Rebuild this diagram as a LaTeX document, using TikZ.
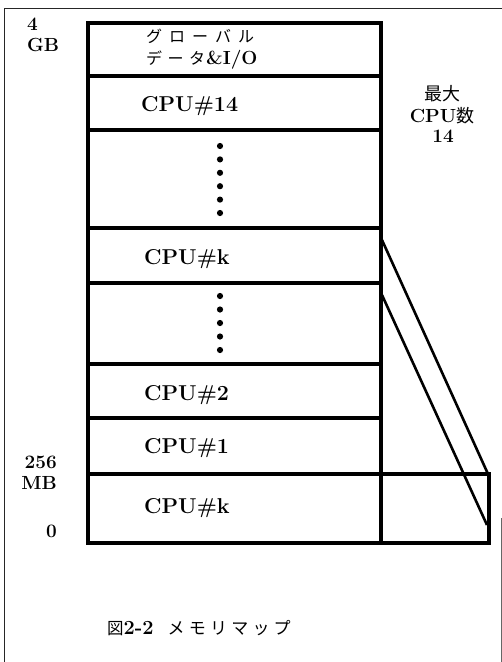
\documentclass[tikz,border=0pt]{standalone}
\usepackage{fontspec}
\newfontfamily\jp{Noto Sans CJK JP}
\newcommand\ksp{\hspace{7pt}}
\newcommand\dsp{\hspace{5.5pt}}
\newcommand\csp{\hspace{4.2pt}}
\begin{document}
\begin{tikzpicture}[x=1pt,y=-1pt,
  frameline/.style={line width=1pt, black!85},
  rowbox/.style={draw, line width=4.8pt, minimum width=293pt, inner sep=0pt, outer sep=0pt},
  mapline/.style={line width=2.6pt},
  lbl/.style={inner sep=0pt, font=\bfseries\fontsize{21.5}{23}\selectfont},
  sidelbl/.style={inner sep=0pt, font=\bfseries\fontsize{19}{21}\selectfont},
  jplbl/.style={inner sep=0pt, font=\jp\fontsize{16}{18}\selectfont},
  dotmark/.style={fill=black}
]
\useasboundingbox (0,0) rectangle (502,662);
% outer frame
\draw[frameline] (4,662) -- (4,8) -- (502,8);
\draw[line width=0.8pt, black!60] (501.3,518) -- (501.3,662);

% memory rows (y boundaries 23,76,130,228,283,364,418,474,543)
\node[rowbox, minimum height=53pt] (rglob) at (234.5,49.5) {};
\node[rowbox, minimum height=54pt] (r14)   at (234.5,103) {};
\node[rowbox, minimum height=98pt] (rdotsA) at (234.5,179) {};
\node[rowbox, minimum height=55pt] (rk)    at (234.5,255.5) {};
\node[rowbox, minimum height=81pt] (rdotsB) at (234.5,323.5) {};
\node[rowbox, minimum height=54pt] (r2)    at (234.5,391) {};
\node[rowbox, minimum height=56pt] (r1)    at (234.5,446) {};
\node[rowbox, minimum height=69pt] (r0)    at (234.5,508.5) {};
% mapped copy of CPU#k
\node[draw, line width=4.8pt, minimum width=108pt, minimum height=69pt, inner sep=0pt, outer sep=0pt] (map) at (435,508.5) {};

% mapping lines
\coordinate (m1s) at (382,240);
\coordinate (m1e) at (488,474);
\coordinate (m2s) at (382,295);
\coordinate (m2e) at (487,525);
\draw[mapline] (m1s) -- (m1e);
\draw[mapline] (m2s) -- (m2e);

% texts in rows
\node[jplbl, anchor=base west] (tglob1) at (146,42) {グ\ksp ロ\ksp ー\ksp バ\ksp ル};
\node[anchor=base west, inner sep=0pt] (tglob2) at (146,64) {{\jp\fontsize{16}{18}\selectfont デ\dsp ー\dsp タ}\hspace{1pt}{\bfseries\fontsize{19}{21}\selectfont \&I/O}};
\node[lbl, anchor=base west] (t14) at (141,111) {CPU\#14};
\node[lbl, anchor=base west] (tk)  at (144,264) {CPU\#k};
\node[lbl, anchor=base west] (t2)  at (144,400) {CPU\#2};
\node[lbl, anchor=base west] (t1)  at (144,453) {CPU\#1};
\node[lbl, anchor=base west] (tk0) at (144,513) {CPU\#k};

% dots
\foreach \yy in {146,159.4,172.8,186.2,199.6,213} \fill[dotmark] (220,\yy) circle (3.1);
\foreach \yy in {296,309.5,323,336.5,350} \fill[dotmark] (220,\yy) circle (3.1);

% address labels
\node[sidelbl, anchor=base west] (a4)  at (27,30) {4};
\node[sidelbl, anchor=base west] (aGB) at (27,51) {GB};
\node[sidelbl, anchor=base east] (a256) at (57,468) {256};
\node[sidelbl, anchor=base east] (aMB) at (57,489) {MB};
\node[sidelbl, anchor=base east] (a0)  at (57,537) {0};

% max CPU label
\node[anchor=base, inner sep=0pt] (mx1) at (442,100) {\jp\fontsize{18}{20}\selectfont 最大};
\node[anchor=base, inner sep=0pt] (mx2) at (442,122) {{\bfseries\fontsize{19}{21}\selectfont CPU}{\jp\fontsize{18}{20}\selectfont 数}};
\node[anchor=base, inner sep=0pt] (mx3) at (443,142) {\bfseries\fontsize{19}{21}\selectfont 14};

% caption
\node[anchor=base west, inner sep=0pt] (cap) at (107,634) {{\jp\fontsize{16.5}{18}\selectfont 図}{\bfseries\fontsize{20}{22}\selectfont 2-2}\hspace{14pt}{\jp\fontsize{17}{19}\selectfont メ\csp モ\csp リ\csp マ\csp ッ\csp プ}};
\end{tikzpicture}
\end{document}
